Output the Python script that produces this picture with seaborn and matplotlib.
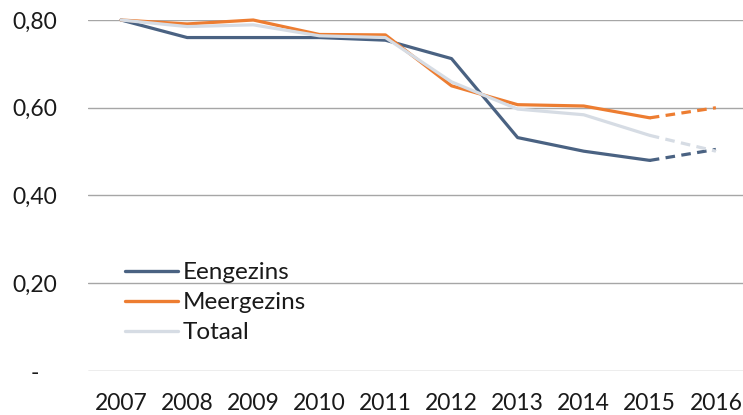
import pandas as pd
import matplotlib.pyplot as plt
import seaborn as sns

years = [2007, 2008, 2009, 2010, 2011, 2012, 2013, 2014, 2015, 2016]
eengezins = [0.800, 0.760, 0.760, 0.760, 0.754, 0.712, 0.532, 0.501, 0.480, 0.505]
meergezins = [0.800, 0.791, 0.800, 0.767, 0.766, 0.650, 0.607, 0.604, 0.577, 0.600]
totaal = [0.800, 0.785, 0.789, 0.764, 0.760, 0.659, 0.597, 0.584, 0.537, 0.501]

series_names = ["Eengezins", "Meergezins", "Totaal"]
colors = {"Eengezins": "#4A6282", "Meergezins": "#ED7D31", "Totaal": "#D6DCE4"}

y_ticks = [0, 0.2, 0.4, 0.6, 0.8]
y_labels = ["-   ", "0,20", "0,40", "0,60", "0,80"]

# long format table
rows = []
for name, vals in zip(series_names, [eengezins, meergezins, totaal]):
    for yr, v in zip(years, vals):
        rows.append({"jaar": yr, "waarde": v, "type": name})
df = pd.DataFrame(rows)

# last year is a forecast -> dashed
solid = df[df["jaar"] <= 2015]
dashed = df[df["jaar"] >= 2015]

sns.set_style("white")
plt.rcParams["font.family"] = ["Lato", "DejaVu Sans"]

fig = plt.figure(figsize=(7.43, 4.15), dpi=100)
ax = fig.add_axes([88 / 743, 44 / 415, 655 / 743, 351 / 415])

sns.lineplot(data=solid, x="jaar", y="waarde", hue="type", hue_order=series_names,
             palette=colors, linewidth=2.3, ax=ax, clip_on=False)
n_solid = len(ax.lines)
sns.lineplot(data=dashed, x="jaar", y="waarde", hue="type", hue_order=series_names,
             palette=colors, linewidth=2.3, ax=ax, legend=False, clip_on=False)
for line in ax.lines[n_solid:]:
    line.set_linestyle((0, (3, 2)))

ax.set_xlim(2006.5, 2016.41)
ax.set_ylim(0, 0.8)
ax.set_xticks(years)
ax.set_xticklabels([str(y) for y in years])
ax.set_yticks(y_ticks)
ax.set_yticklabels(y_labels)
ax.tick_params(axis="both", length=0, labelsize=16.5, colors="#1a1a1a")
ax.tick_params(axis="y", pad=22)
ax.tick_params(axis="x", pad=16)
ax.yaxis.grid(True, color="#A6A6A6", linewidth=1)
ax.set_axisbelow(True)
ax.set_xlabel("")
ax.set_ylabel("")
sns.despine(ax=ax, left=True, bottom=True)

handles, labels = ax.get_legend_handles_labels()
leg = ax.legend(handles[:3], labels[:3], loc="upper left", bbox_to_anchor=(0.056, 0.31),
                frameon=False, fontsize=17.5, handlelength=2.2, handletextpad=0.2,
                labelspacing=0.37, borderpad=0, borderaxespad=0)
for h in leg.get_lines():
    h.set_linestyle("-")
    h.set_linewidth(2.4)
for t in leg.get_texts():
    t.set_color("#1a1a1a")

fig.savefig("out.png", dpi=100)
